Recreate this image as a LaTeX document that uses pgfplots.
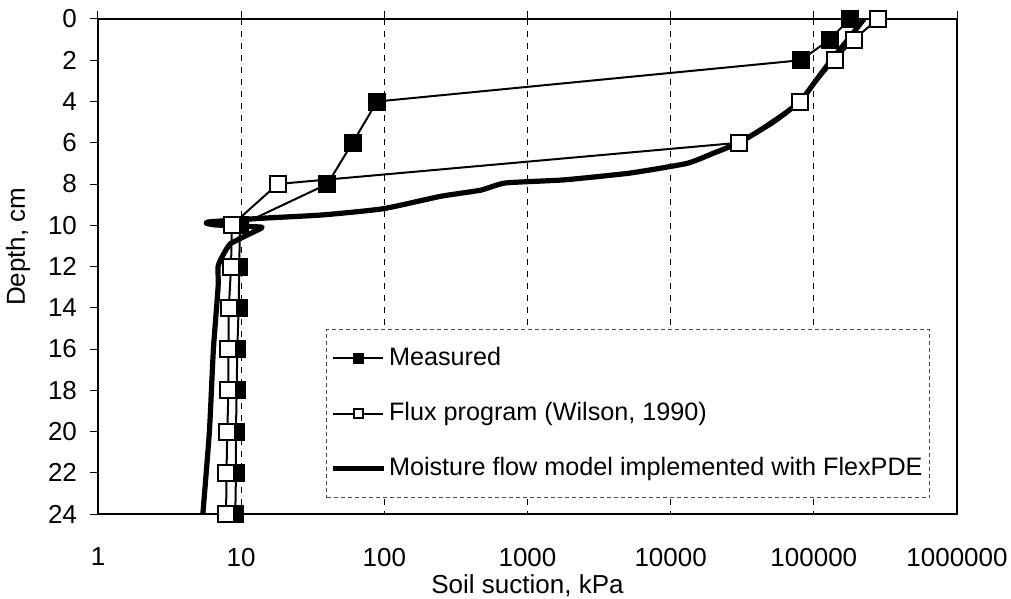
\documentclass[border=0pt]{standalone}
\usepackage{fontspec}
\setmainfont{Liberation Sans}
\usepackage{pgfplots}
\pgfplotsset{compat=1.18}
\begin{document}
\fontsize{13pt}{15pt}\selectfont
\begin{tikzpicture}
\useasboundingbox (-49pt,-42.5pt) rectangle (456.5pt,257pt);
\begin{axis}[
  scale only axis, width=429.5pt, height=247.5pt,
  xmode=log, xmin=1, xmax=1000000,
  ymin=0, ymax=24, y dir=reverse,
  xtick={1,10,100,1000,10000,100000,1000000},
  xticklabels={1,10,100,1000,10000,100000,1000000},
  ytick={0,2,...,24},
  xminorticks=false,
  xtick pos=right, xticklabel pos=left,
  ytick pos=left,
  tick align=outside,
  major tick length=4pt,
  xmajorgrids,
  grid style={black, line width=0.4pt, dash pattern=on 3pt off 3pt},
  axis line style={line width=1.2pt},
  tick style={black, line width=0.5pt},
  /pgf/number format/assume math mode=true,
  ticklabel style={font=\fontsize{13pt}{15pt}\selectfont},
  xticklabel style={yshift=-8.5pt},
  yticklabel style={xshift=-2pt},
  xlabel={Soil suction, kPa},
  ylabel={Depth, cm},
  every axis x label/.style={at={(axis description cs:0.5,0)}, anchor=north, yshift=-26pt, font=\fontsize{13pt}{15pt}\selectfont},
  every axis y label/.style={at={(axis description cs:-0.093,0.54)}, anchor=center, rotate=90, font=\fontsize{13pt}{15pt}\selectfont},
  legend style={at={(0.9686,0.032)}, anchor=south east, draw=black!70, line width=0.4pt, dash pattern=on 2pt off 1.5pt,
    font=\fontsize{12.6pt}{14.5pt}\selectfont, cells={anchor=west}, row sep=12.5pt, inner xsep=2pt, inner ysep=7pt,
    nodes={inner xsep=1.5pt}},
  legend image code/.code={\draw[mark repeat=2,mark phase=2,#1,mark size=2.4pt,solid] plot coordinates {(0pt,0pt) (12.5pt,0pt) (25pt,0pt)};},
]
\addplot[black, line width=1pt, mark=square*, mark size=4pt, mark options={solid, fill=black}] coordinates {
(178000,0) (129000,1) (81000,2) (89,4) (60,6) (40,8) (9.8,10) (9.7,12) (9.6,14) (9.4,16) (9.3,18) (9.2,20) (9.2,22) (9.1,24)
};
\addlegendentry{Measured}
\addplot[black, line width=1pt, mark=square*, mark size=4pt, mark options={solid, fill=white, line width=1pt}] coordinates {
(280000,0) (190000,1) (140000,2) (80000,4) (30000,6) (18,8) (8.6,10) (8.5,12) (8.2,14) (8.15,16) (8.15,18) (8.0,20) (7.9,22) (7.85,24)
};
\addlegendentry{Flux program (Wilson, 1990)}
\addplot[black, line width=2.6pt, line join=round, smooth, tension=0.3] coordinates {
(224000,0) (173000,1) (132000,2) (103000,3) (80000,4) (52000,5) (30000,6) (20000,6.5) (13000,7) (5200,7.47) (1800,7.8) (700,7.95) (470,8.3) (246,8.6) (98,9.2) (37,9.5) (14,9.66) (6.1,9.83) (5.7,9.9) (6.5,9.98) (10,10.05) (14,10.1) (11.6,10.4) (8.4,10.9) (7.4,11.5) (6.9,12) (6.9,13) (6.4,16) (6.0,20) (5.4,24)
};
\addlegendentry{Moisture flow model implemented with FlexPDE}
\end{axis}
\end{tikzpicture}
\end{document}
